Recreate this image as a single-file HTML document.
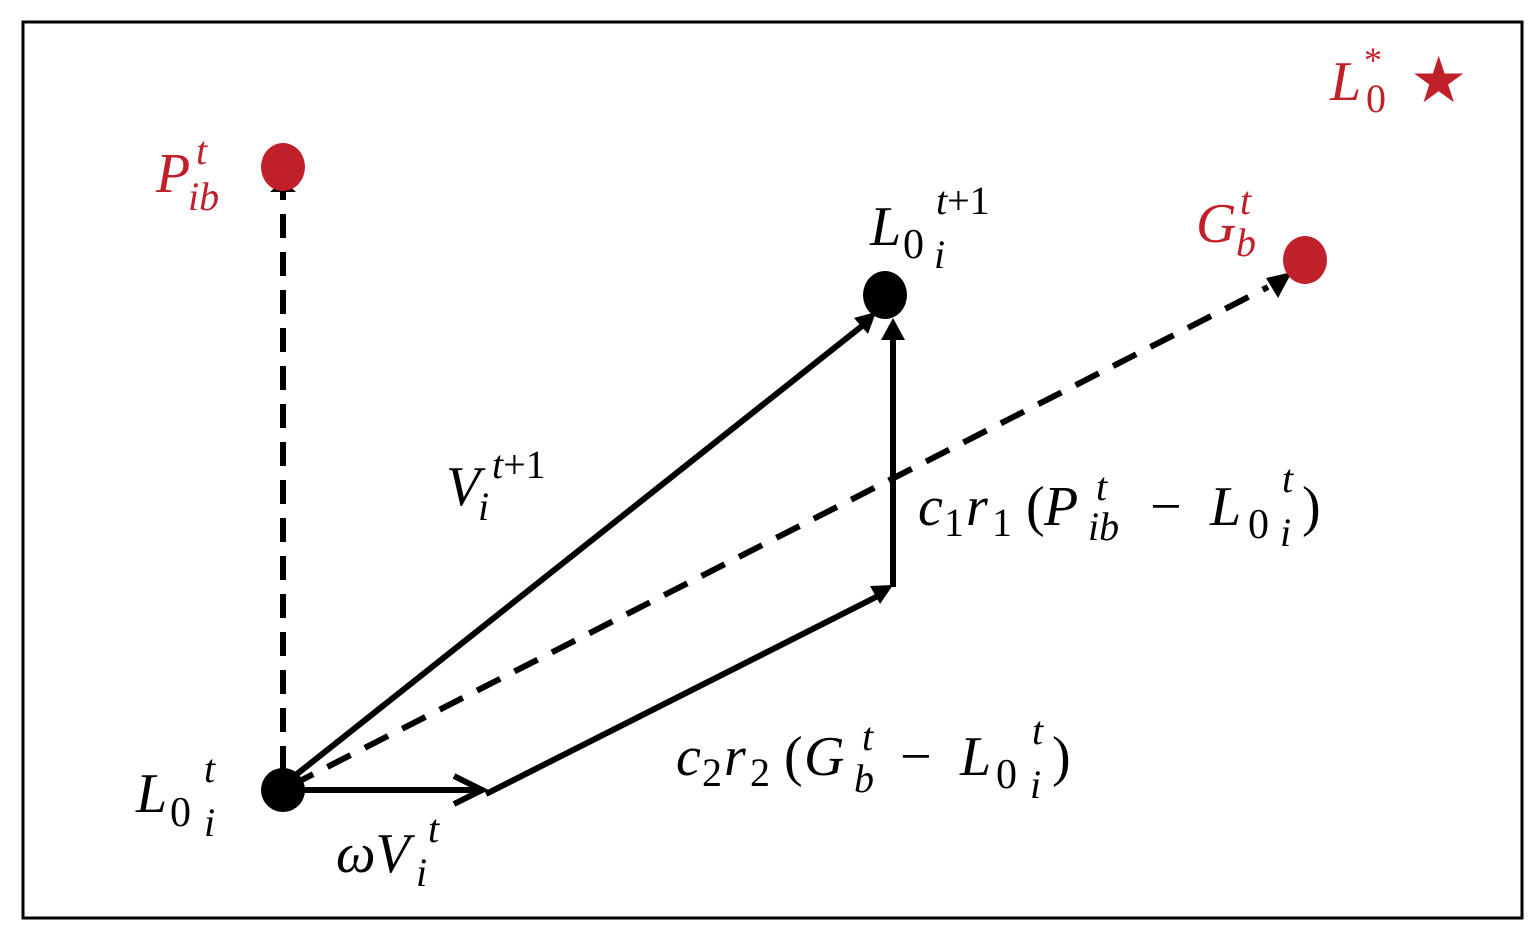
<!DOCTYPE html>
<html><head><style>
html,body{margin:0;padding:0;background:#fff;}
svg text, svg tspan{font-family:"Liberation Serif",serif;font-style:italic;}
svg .n{font-style:normal;}
</style></head><body>
<svg width="1540" height="940" viewBox="0 0 1540 940" xmlns="http://www.w3.org/2000/svg">
<rect x="23" y="22" width="1499" height="896" fill="#fff" stroke="#000" stroke-width="3"/>
<g stroke="#000" stroke-width="6" fill="none">
<line x1="283" y1="770" x2="283" y2="192" stroke-dasharray="24,14"/>
<line x1="290" y1="786" x2="1268" y2="287" stroke-dasharray="26,16"/>
<line x1="292" y1="778" x2="862" y2="326"/>
<line x1="300" y1="790" x2="482" y2="790"/>
<polyline points="454,776 482,790 454,804"/>
<line x1="486" y1="794" x2="880" y2="595"/>
<line x1="893" y1="587" x2="893" y2="338"/>
</g>
<path d="M270,192 L283,180 L296,192 z" fill="#000"/>
<path d="M1266,278 L1292,272 L1278,298 z" fill="#000"/>
<path d="M854,318 L876,312 L868,334 z" fill="#000"/>
<path d="M870,586 L893,585 L880,604 z" fill="#000"/>
<path d="M881,340 L893,318 L905,340 z" fill="#000"/>
<circle cx="283" cy="790" r="22" fill="#000"/>
<ellipse cx="885" cy="295" rx="22" ry="24" fill="#000"/>
<ellipse cx="283" cy="167" rx="22" ry="24" fill="#c0202a"/>
<ellipse cx="1305" cy="260" rx="22" ry="24" fill="#c0202a"/>
<g fill="#c0202a" font-size="56">
<text x="156" y="192">P</text><text x="196" y="164" font-size="40">t</text><text x="188" y="210" font-size="40">ib</text>
<text x="1196" y="242">G</text><text x="1240" y="214" font-size="40">t</text><text x="1236" y="256" font-size="40">b</text>
<text x="1330" y="100">L</text><text x="1364" y="72" font-size="36" class="n">*</text><text x="1366" y="112" font-size="40" class="n">0</text>
<text x="1410" y="102" font-size="64" class="n">★</text>
</g>
<g fill="#000" font-size="56">
<text x="136" y="812">L</text><text x="170" y="826" class="n" font-size="42">0</text><text x="204" y="836" font-size="40">i</text><text x="204" y="782" font-size="40">t</text>
<text x="870" y="245">L</text><text x="903" y="258" class="n" font-size="42">0</text><text x="934" y="268" font-size="40">i</text><text x="936" y="214" font-size="40">t<tspan class="n">+1</tspan></text>
<text x="446" y="505">V</text><text x="478" y="520" font-size="40">i</text><text x="492" y="478" font-size="40">t<tspan class="n">+1</tspan></text>
<text x="336" y="872">ωV</text><text x="416" y="886" font-size="40">i</text><text x="428" y="842" font-size="40">t</text>
<text x="918" y="525">c</text><text x="944" y="536" class="n" font-size="40">1</text><text x="966" y="525">r</text><text x="992" y="536" class="n" font-size="40">1</text><text x="1026" y="525" class="n">(</text><text x="1044" y="525">P</text>
<text x="1096" y="500" font-size="40">t</text><text x="1088" y="540" font-size="40">ib</text>
<text x="1150" y="525" class="n">−</text><text x="1210" y="525">L</text><text x="1248" y="538" class="n" font-size="42">0</text><text x="1280" y="546" font-size="40">i</text><text x="1282" y="492" font-size="40">t</text><text x="1302" y="525" class="n">)</text>
<text x="676" y="775">c</text><text x="702" y="786" class="n" font-size="40">2</text><text x="724" y="775">r</text><text x="750" y="786" class="n" font-size="40">2</text><text x="784" y="775" class="n">(</text><text x="804" y="775">G</text>
<text x="862" y="750" font-size="40">t</text><text x="854" y="792" font-size="40">b</text>
<text x="900" y="775" class="n">−</text><text x="960" y="775">L</text><text x="996" y="788" class="n" font-size="42">0</text><text x="1030" y="798" font-size="40">i</text><text x="1032" y="744" font-size="40">t</text><text x="1052" y="775" class="n">)</text>
</g>
</svg>
</body></html>
